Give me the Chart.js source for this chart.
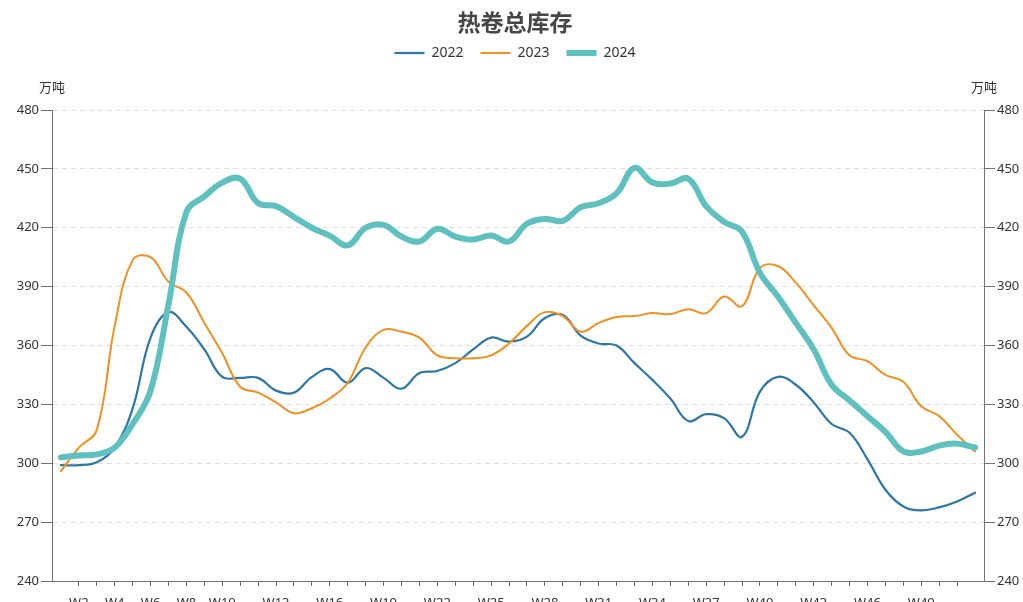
<!DOCTYPE html>
<html>
<head>
<meta charset="utf-8">
<script src="https://cdn.jsdelivr.net/npm/chart.js"></script>
<style>
html, body { margin: 0; padding: 0; background: #fff; }
#wrap { width: 1023px; height: 602px; }
</style>
</head>
<body>
<div id="wrap"><canvas id="lineChart"></canvas></div>
<script>
// weekly hot-rolled coil total inventory, 万吨
const weeks = ["W1", "W2", "W3", "W4", "W5", "W6", "W7", "W8", "W9", "W10", "W11", "W12", "W13",
    "W14", "W15", "W16", "W17", "W18", "W19", "W20", "W21", "W22", "W23", "W24", "W25", "W26",
    "W27", "W28", "W29", "W30", "W31", "W32", "W33", "W34", "W35", "W36", "W37", "W38", "W39",
    "W40", "W41", "W42", "W43", "W44", "W45", "W46", "W47", "W48", "W49", "W50", "W51", "W52"]
const shownWeeks = ["W2", "W4", "W6", "W8", "W10", "W13", "W16", "W19", "W22", "W25", "W28",
    "W31", "W34", "W37", "W40", "W43", "W46", "W49"]
const yTicks = [240, 270, 300, 330, 360, 390, 420, 450, 480]

const v2022 = [299, 299, 300.5, 308, 328, 364, 377, 369.5, 358, 344, 343.5, 343.5, 337, 336, 344,
    348, 341, 348.5, 343.5, 338, 346, 347, 351, 358, 364, 362, 364.5, 374, 375.5, 365, 361, 360,
    351, 342.5, 333, 321.5, 325, 323, 313.5, 336.5, 344, 340, 331, 320, 315.5, 302, 286.5, 278,
    276, 277.5, 280.5, 285]
const v2023 = [296, 308, 317, 370, 403.5, 405, 392.5, 387, 371.5, 356, 339, 336, 331, 325.5, 328,
    333, 341, 359, 368, 367, 364, 355, 353.5, 353.5, 355, 361, 370, 377, 375, 367, 371.5, 374.5,
    375, 376.5, 376, 378.5, 376.5, 385, 380, 399.5, 400.5, 392, 380.5, 369, 355, 352, 345, 341.5,
    329, 324, 314.5, 306]
const v2024 = [303, 304, 304.5, 308, 320, 337, 381, 428, 436, 443, 445, 432.5, 431, 425.5, 420,
    416, 411, 420, 421.5, 415.5, 413, 419.5, 415.5, 414, 416, 413, 422, 424.5, 423.5, 430.5, 432.5,
    437.5, 450.5, 443, 442.5, 445, 431, 423, 418, 397, 385, 371.5, 358, 340, 332, 324, 316, 306,
    306, 309, 310, 308]

Chart.defaults.font.family = '"Noto Sans", "Noto Sans CJK SC", sans-serif'
Chart.defaults.color = "#333"

const axisColor = "#6e7079"

// the 万吨 unit above both value axes
const unitLabels = {
    id: "unitLabels",
    afterDraw(chart) {
        const ctx = chart.ctx
        ctx.save()
        ctx.font = '13px "Noto Sans CJK SC", sans-serif'
        ctx.fillStyle = "#333"
        ctx.textAlign = "center"
        ctx.textBaseline = "middle"
        ctx.fillText("万吨", chart.chartArea.left, 87)
        ctx.fillText("万吨", chart.chartArea.right, 87)
        ctx.restore()
    }
}

function yAxis(position, width, onArea) {
    return {
        type: "linear",
        position: position,
        min: 240,
        max: 480,
        afterBuildTicks: (scale) => { scale.ticks = yTicks.map(v => ({ value: v })) },
        afterFit: (scale) => { scale.width = width },
        grid: {
            drawOnChartArea: onArea,
            color: "#e0e0e0",
            lineWidth: 1,
            tickLength: 11,
            tickColor: axisColor,
            tickWidth: 1
        },
        border: { display: true, color: axisColor, width: 1, dash: [5, 4] },
        ticks: { padding: 2, font: { size: 13 }, color: "#333" }
    }
}

const CHART = document.getElementById("lineChart")
const lineChart = new Chart(CHART, {
    type: "line",
    data: {
        labels: weeks,
        datasets: [
            {
                label: "2022",
                data: v2022,
                borderColor: "#2b78a8",
                backgroundColor: "#2b78a8",
                borderWidth: 2.2,
                order: 2
            },
            {
                label: "2023",
                data: v2023,
                borderColor: "#f28f1f",
                backgroundColor: "#f28f1f",
                borderWidth: 2,
                order: 1
            },
            {
                label: "2024",
                data: v2024,
                borderColor: "#5fc0c0",
                backgroundColor: "#5fc0c0",
                borderWidth: 6,
                order: 0
            }
        ]
    },
    options: {
        responsive: true,
        maintainAspectRatio: false,
        animation: false,
        layout: { padding: { left: 7 } },
        elements: {
            point: { radius: 0, hoverRadius: 0 },
            line: { tension: 0.4, fill: false, borderCapStyle: "round", borderJoinStyle: "round" }
        },
        plugins: {
            title: {
                display: true,
                text: "热卷总库存",
                color: "#464646",
                font: { size: 23, weight: "bold", family: '"Noto Sans CJK SC", sans-serif', lineHeight: "14px" },
                padding: { top: 15, bottom: 0 }
            },
            // blank spacer under the legend, pushes the plot down to the reference top
            subtitle: {
                display: true,
                text: " ",
                weight: 500,
                font: { size: 10, lineHeight: "10px" },
                padding: { top: 0, bottom: 30 }
            },
            legend: {
                display: true,
                labels: {
                    usePointStyle: true,
                    pointStyle: "line",
                    pointStyleWidth: 30,
                    padding: 17,
                    color: "#333",
                    font: { size: 14 },
                    sort: (a, b) => a.datasetIndex - b.datasetIndex
                }
            },
            tooltip: { enabled: false }
        },
        scales: {
            x: {
                type: "category",
                offset: true,
                afterFit: (scale) => { scale.height = 21 },
                grid: {
                    drawOnChartArea: false,
                    offset: false,
                    tickLength: 5,
                    tickColor: (c) => (c.index === 0 || c.index === weeks.length - 1) ? "rgba(0,0,0,0)" : axisColor
                },
                border: { display: true, color: axisColor, width: 1 },
                ticks: {
                    autoSkip: false,
                    maxRotation: 0,
                    padding: 9,
                    font: { size: 13 },
                    color: "#333",
                    callback: function (value, index) {
                        const name = weeks[index]
                        return shownWeeks.includes(name) ? name : ""
                    }
                }
            },
            y: yAxis("left", 45, true),
            y2: yAxis("right", 39, false)
        }
    },
    plugins: [unitLabels]
})
</script>
</body>
</html>
